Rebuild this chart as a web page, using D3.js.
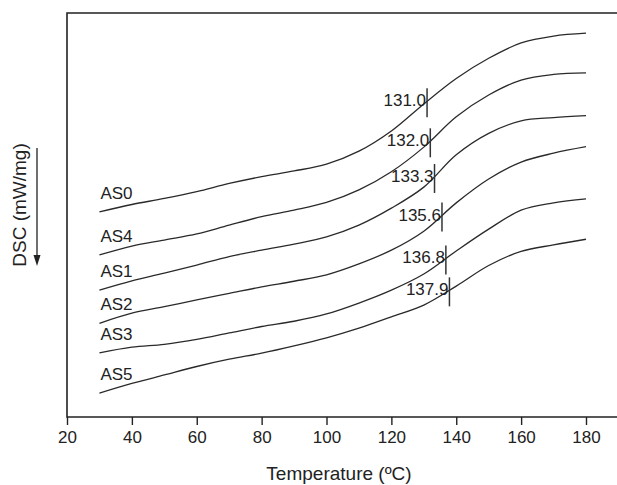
<!DOCTYPE html>
<html>
<head>
<meta charset="utf-8">
<script src="https://cdn.jsdelivr.net/npm/d3@7/dist/d3.min.js"></script>
<style>
  body { margin: 0; background: #fff; }
  svg { display: block; font-family: "Liberation Sans", Arial, Helvetica, sans-serif; }
</style>
</head>
<body>
<script>
// temperature points (ºC) where the curves were read
const temps = [30, 40, 50, 60, 70, 80, 90, 100, 110, 120, 130, 140, 150, 160, 170, 180];

// DSC signal, arbitrary units (curves are offset, no y ticks in the original)
const as0 = [5.08, 5.26, 5.41, 5.58, 5.78, 5.95, 6.09, 6.26, 6.58, 7.08, 7.75, 8.38, 8.88, 9.26, 9.43, 9.50];
const as4 = [4.01, 4.23, 4.38, 4.53, 4.75, 4.96, 5.12, 5.31, 5.62, 6.07, 6.68, 7.43, 7.97, 8.34, 8.48, 8.52];
const as1 = [3.14, 3.37, 3.56, 3.76, 3.97, 4.13, 4.28, 4.46, 4.75, 5.17, 5.69, 6.49, 7.02, 7.33, 7.41, 7.46];
const as2 = [2.32, 2.57, 2.73, 2.90, 3.06, 3.22, 3.36, 3.52, 3.79, 4.13, 4.60, 5.30, 5.89, 6.31, 6.53, 6.69];
const as3 = [1.59, 1.73, 1.80, 1.92, 2.08, 2.24, 2.37, 2.55, 2.82, 3.14, 3.54, 4.11, 4.65, 5.12, 5.30, 5.40];
const as5 = [0.59, 0.83, 1.04, 1.25, 1.43, 1.58, 1.76, 1.96, 2.20, 2.48, 2.77, 3.24, 3.75, 4.10, 4.26, 4.40];

const samples = ["AS0", "AS4", "AS1", "AS2", "AS3", "AS5"];
const tgValues = [131.0, 132.0, 133.3, 135.6, 136.8, 137.9];
const tgLabels = ["131.0", "132.0", "133.3", "135.6", "136.8", "137.9"];
const xTicks = [20, 40, 60, 80, 100, 120, 140, 160, 180];

const series = [as0, as4, as1, as2, as3, as5];

function drawchart() {
  const width = 617;
  const height = 485;

  const x = d3.scaleLinear().domain([20, 180]).range([67, 586]);
  const y = d3.scaleLinear().domain([0, 10]).range([417, 13]);

  const svg = d3.select("body").append("svg")
    .attr("width", width)
    .attr("height", height)
    .attr("viewBox", `0 0 ${width} ${height}`);

  // frame: left, top, bottom (open to the right edge)
  svg.append("path")
    .attr("d", `M${width + 2},${y(10)}H${x(20)}V${y(0)}H${width + 2}`)
    .attr("fill", "none")
    .attr("stroke", "#222")
    .attr("stroke-width", 1.6);

  const xAxis = svg.append("g")
    .attr("transform", `translate(0,${y(0)})`)
    .call(d3.axisBottom(x).tickValues(xTicks).tickSize(8).tickPadding(6).tickSizeOuter(0));
  xAxis.select(".domain").remove();
  xAxis.selectAll(".tick line").attr("stroke", "#222").attr("stroke-width", 1.4);
  xAxis.selectAll(".tick text")
    .attr("fill", "#222")
    .style("font-size", "17px")
    .style("font-family", "'Liberation Sans', Arial, Helvetica, sans-serif");

  svg.append("text")
    .attr("x", 339)
    .attr("y", 480)
    .attr("text-anchor", "middle")
    .attr("fill", "#222")
    .style("font-size", "19px")
    .text("Temperature (ºC)");

  // y title with downward arrow
  const yMid = 205;
  svg.append("text")
    .attr("transform", `translate(26,${yMid}) rotate(-90)`)
    .attr("text-anchor", "middle")
    .attr("fill", "#222")
    .style("font-size", "19px")
    .text("DSC (mW/mg)");

  svg.append("line")
    .attr("x1", 37).attr("x2", 37)
    .attr("y1", yMid - 57).attr("y2", yMid + 52)
    .attr("stroke", "#222")
    .attr("stroke-width", 1.3);
  svg.append("path")
    .attr("d", `M33.5,${yMid + 50}L37,${yMid + 61}L40.5,${yMid + 50}Z`)
    .attr("fill", "#222");

  const line = d3.line()
    .x((d, i) => x(temps[i]))
    .y(d => y(d))
    .curve(d3.curveCatmullRom.alpha(0.5));

  const curves = svg.append("g")
    .selectAll("path")
    .data(series)
    .join("path")
    .attr("d", line)
    .attr("fill", "none")
    .attr("stroke", "#2a2a2a")
    .attr("stroke-width", 1.3);

  // sample names at the start of each curve
  svg.append("g")
    .selectAll("text")
    .data(samples)
    .join("text")
    .attr("x", x(temps[0]) + 1)
    .attr("y", (d, i) => y(series[i][0]) - 13)
    .attr("fill", "#222")
    .style("font-size", "17px")
    .text(d => d);

  // find where a drawn curve crosses a given temperature
  function yOnCurve(node, tx) {
    const px = x(tx);
    let lo = 0, hi = node.getTotalLength();
    for (let k = 0; k < 40; k++) {
      const mid = (lo + hi) / 2;
      if (node.getPointAtLength(mid).x < px) lo = mid; else hi = mid;
    }
    return node.getPointAtLength(lo).y;
  }

  const nodes = curves.nodes();
  const marks = svg.append("g");
  tgValues.forEach((tg, i) => {
    const cy = yOnCurve(nodes[i], tg);
    marks.append("line")
      .attr("x1", x(tg)).attr("x2", x(tg))
      .attr("y1", cy - 13).attr("y2", cy + 16)
      .attr("stroke", "#333")
      .attr("stroke-width", 1.5);
    marks.append("text")
      .attr("x", x(tg) - 1)
      .attr("y", cy + 5)
      .attr("text-anchor", "end")
      .attr("fill", "#222")
      .style("font-size", "17px")
      .text(tgLabels[i]);
  });

  return svg.node();
}

drawchart();
</script>
</body>
</html>
